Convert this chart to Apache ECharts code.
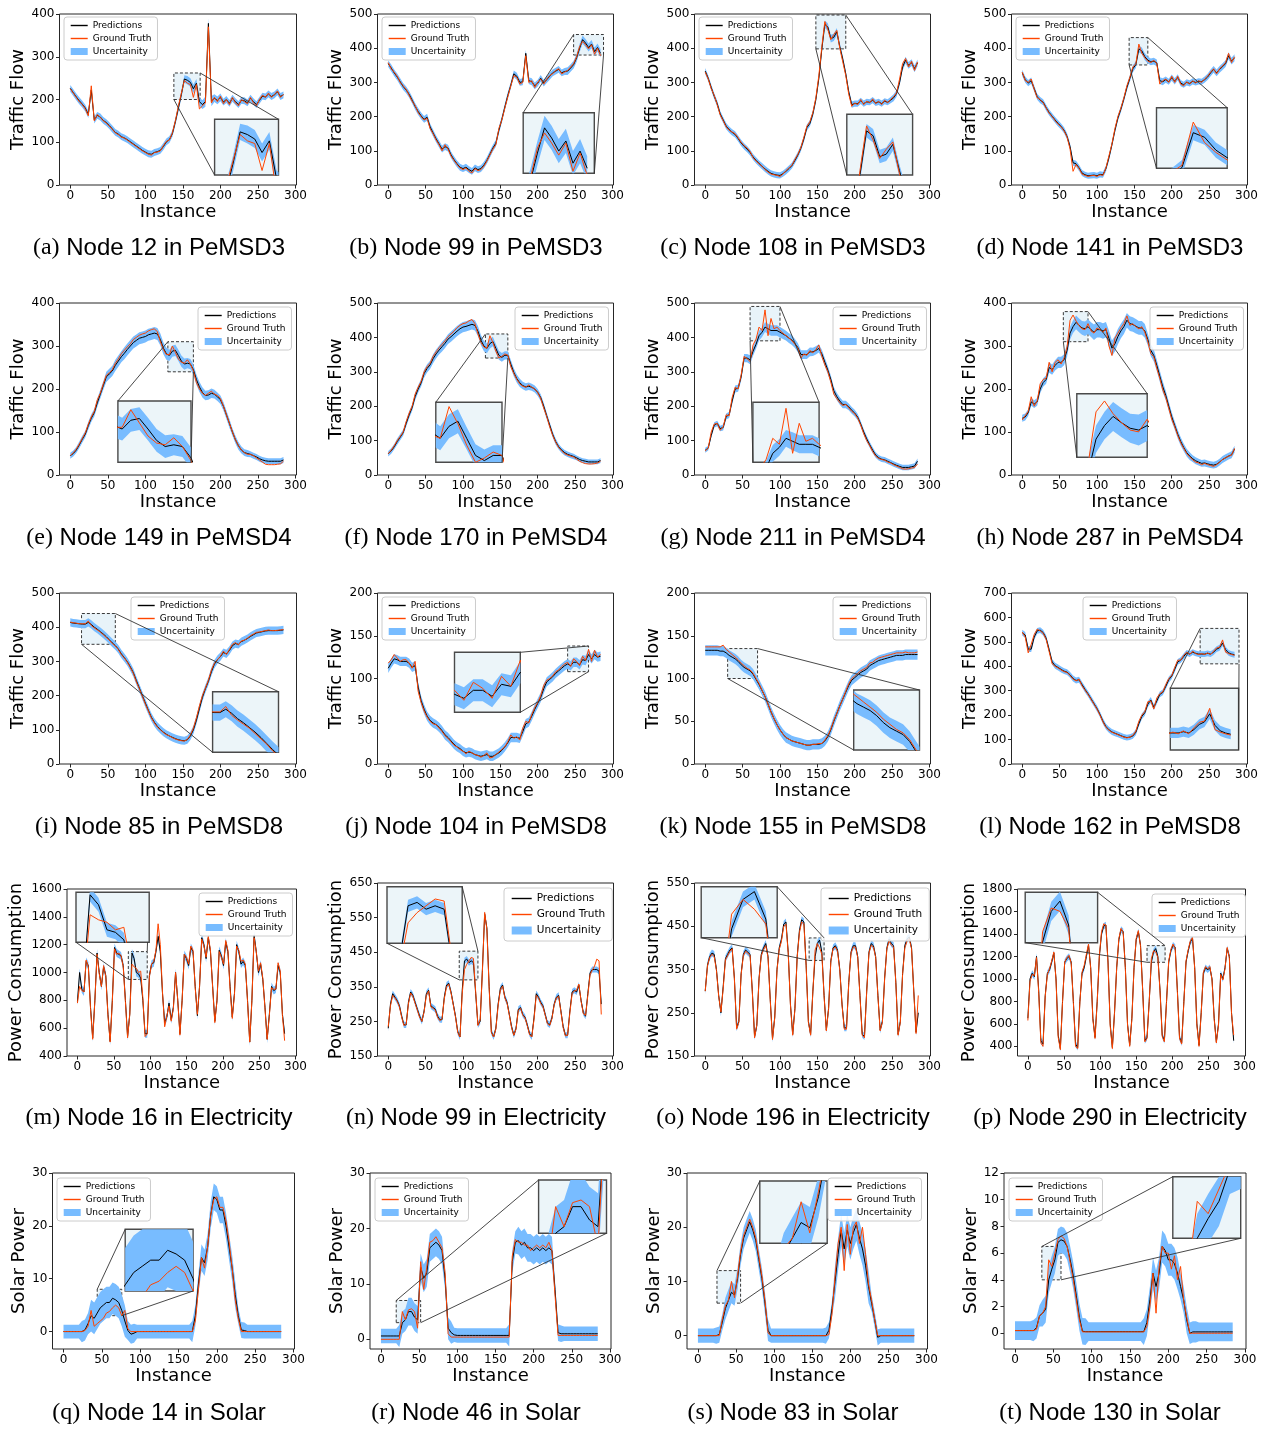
<!DOCTYPE html>
<html><head><meta charset="utf-8">
<script src="https://cdn.jsdelivr.net/npm/echarts@6/dist/echarts.min.js"></script>
<style>html,body{margin:0;padding:0;background:#fff;}#c{width:1275px;height:1430px;}</style>
</head><body><div id="c"></div>
<script>
// ---------------- DATA (traffic & solar sampled every 4 instances, electricity every 3; uncertainty half-width per 12 instances) ----------------
const TICKS_X = [0,50,100,150,200,250,300];
const TICKS_0_400 = [0,100,200,300,400];
const TICKS_0_500 = [0,100,200,300,400,500];
const TICKS_0_200 = [0,50,100,150,200];
const TICKS_0_700 = [0,100,200,300,400,500,600,700];
const TICKS_400_1600 = [400,600,800,1000,1200,1400,1600];
const TICKS_150_650 = [150,250,350,450,550,650];
const TICKS_150_550 = [150,250,350,450,550];
const TICKS_400_1800 = [400,600,800,1000,1200,1400,1600,1800];
const TICKS_0_30 = [0,10,20,30];
const TICKS_0_12 = [0,2,4,6,8,10,12];

const truthA = [225,215,205,195,188,178,162,232,150,165,158,150,
145,138,130,122,118,112,110,105,100,95,90,85,
80,76,72,70,76,77,80,92,102,105,122,150,
185,215,245,238,235,205,235,178,185,192,370,192,
205,195,208,190,200,188,205,192,185,200,195,190,
205,192,185,200,210,205,215,205,212,220,205,212];
const predA = [226,216,206,197,189,180,165,222,152,163,159,151,
146,139,131,123,119,113,110,106,101,96,91,86,
81,77,73,72,76,78,81,90,101,106,120,148,
180,212,248,245,240,225,238,195,188,195,378,196,
203,198,205,194,200,191,203,195,188,198,197,192,
203,195,188,198,208,206,213,207,211,218,207,211];
const uncA = [8,8,8,8,8,8,8,8,8,8,8,8,9,10,10,12,9,8,8,8,8,8,8,8];

const truthB = [358,340,330,318,300,290,280,262,245,232,212,200,
190,195,165,150,132,118,100,118,105,85,72,60,
50,45,50,40,35,48,42,45,55,70,88,105,
118,165,190,225,258,290,320,315,295,300,378,300,
305,285,300,310,295,310,320,325,335,340,325,330,
335,345,355,375,405,420,410,398,410,382,400,378];
const predB = [355,342,328,316,302,288,278,265,248,230,215,202,
192,198,170,152,135,120,105,112,108,88,74,62,
52,48,52,45,40,50,45,48,58,72,90,108,
122,160,192,228,262,292,325,318,300,302,385,305,
302,290,298,312,298,308,318,328,333,338,328,332,
333,342,352,372,400,425,415,402,412,390,402,385];
const uncB = [10,10,10,10,10,10,10,10,10,10,10,10,10,10,10,10,10,10,10,10,11,12,12,12];

const truthC = [330,310,282,262,235,205,188,170,160,155,150,138,
125,115,108,98,80,70,62,55,45,38,32,30,
28,25,32,42,50,58,75,90,110,140,172,185,
212,255,320,405,478,455,425,440,452,400,360,320,
265,230,240,235,250,235,245,240,252,238,245,235,
248,240,250,258,270,310,355,370,345,362,335,360];
const predC = [333,312,285,260,238,208,190,172,162,154,148,136,
123,113,105,95,82,72,63,55,47,40,34,31,
29,28,33,40,48,57,72,88,108,135,168,180,
208,250,312,398,470,462,428,432,448,405,368,325,
272,235,238,238,246,238,243,242,248,240,243,238,
245,242,248,255,268,300,345,365,350,358,340,357];
const uncC = [9,9,9,9,9,9,9,9,9,9,9,9,10,11,11,10,9,9,9,9,9,10,10,10];

const truthD = [330,305,300,310,280,255,250,240,225,210,200,188,
178,170,158,140,105,40,60,48,32,28,25,27,
28,25,30,28,50,85,120,165,200,225,255,290,
315,345,355,412,385,372,362,358,365,355,295,305,
310,300,318,300,318,295,290,302,295,305,298,305,
300,310,318,330,340,325,340,348,358,385,358,375];
const predD = [328,308,298,305,282,258,248,242,226,212,201,190,
180,171,160,142,112,65,62,50,35,30,27,28,
29,27,31,30,48,80,118,160,196,222,252,285,
312,340,352,398,392,375,365,360,362,357,305,302,
308,302,314,303,315,298,293,300,297,303,300,303,
302,308,316,328,338,328,338,346,355,378,362,372];
const uncD = [9,9,9,9,9,9,9,9,9,9,9,9,10,10,10,10,9,9,9,9,9,10,10,10];

const truthE = [45,52,60,72,85,98,118,135,148,175,190,212,
232,238,245,260,270,282,290,298,305,315,320,325,
328,330,335,338,340,333,310,292,280,280,300,285,
270,262,260,268,258,242,215,200,190,185,190,195,
188,185,178,160,140,120,100,82,68,58,52,48,
48,45,40,35,30,25,24,24,24,25,26,32];
const predE = [45,50,58,70,83,95,115,132,145,168,188,208,
228,235,242,255,265,275,283,292,300,308,313,318,
320,322,326,328,330,328,315,295,282,278,288,290,
278,265,258,260,258,245,222,205,192,185,186,190,
188,182,175,160,140,120,100,82,68,58,52,50,
48,45,42,38,35,33,32,32,32,32,32,35];
const uncE = [7,8,9,10,12,13,14,14,14,14,14,13,13,12,12,11,10,10,9,8,7,7,7,7];

const truthF = [62,72,85,100,112,125,155,180,200,235,255,272,
300,315,325,345,358,370,380,390,402,410,418,428,
435,440,442,448,452,440,410,385,372,368,405,385,
360,340,345,352,348,315,295,278,265,258,255,262,
255,250,240,222,195,170,140,115,95,80,70,62,
58,55,52,46,40,36,33,32,32,33,35,40];
const predF = [62,70,82,97,110,123,150,175,196,228,250,268,
295,310,320,338,352,363,373,383,395,402,410,418,
425,430,432,435,438,435,418,392,375,368,382,388,
368,348,342,348,348,322,298,280,268,260,256,258,
255,250,240,225,200,172,145,118,97,82,72,65,
60,57,54,50,45,42,40,38,38,38,38,42];
const uncF = [8,9,10,11,12,13,14,15,15,15,15,14,13,12,12,11,10,10,9,8,8,7,7,7];

const truthG = [70,78,125,148,150,130,140,175,172,225,255,250,
290,345,338,330,378,395,430,420,480,405,455,425,
430,420,412,405,398,390,380,368,340,352,348,362,
355,365,378,345,320,300,270,235,222,210,202,205,
195,185,178,165,145,120,100,85,68,55,48,45,
43,38,35,30,26,22,18,17,18,20,22,32];
const predG = [72,78,115,145,150,135,138,170,175,215,250,252,
285,340,340,335,360,380,405,415,430,425,420,420,
420,415,410,405,398,392,382,370,350,350,350,358,
358,362,368,352,328,305,278,245,228,215,205,205,
198,188,180,168,148,125,105,88,72,58,50,46,
44,40,36,32,28,25,22,22,22,24,26,40];
const uncG = [7,8,9,10,12,13,14,15,15,14,13,13,12,12,11,11,10,9,9,8,8,8,8,8];

const truthH = [128,138,148,182,160,172,212,222,225,262,240,262,
268,258,272,298,360,372,358,348,340,338,352,335,
330,342,338,332,342,300,278,318,330,342,352,370,
348,352,345,340,345,332,310,282,275,248,225,198,
180,155,130,112,92,75,62,50,42,35,30,28,
24,27,24,22,20,24,30,36,40,44,46,62];
const predH = [132,135,145,170,165,170,200,215,222,250,245,255,
262,262,268,290,330,345,355,348,342,340,345,338,
332,338,338,335,338,318,295,305,322,335,345,360,
352,350,346,342,342,335,315,290,278,255,230,205,
185,160,135,115,95,78,64,52,44,38,33,30,
27,28,26,24,23,25,30,36,40,44,47,60];
const uncH = [8,9,10,12,13,15,16,17,18,18,18,17,17,16,14,13,11,10,9,8,8,8,8,8];

const truthI = [415,413,412,410,410,410,418,405,398,392,386,378,
370,362,352,345,335,320,310,298,282,265,240,220,
198,175,155,135,120,108,100,92,86,82,77,73,
70,68,67,72,85,105,135,170,200,222,245,275,
295,305,315,330,320,335,350,355,348,360,362,368,
375,380,385,386,388,390,392,390,390,391,392,393];
const predI = [414,412,411,410,409,409,414,408,400,394,387,380,
372,363,354,346,336,322,311,299,284,267,244,222,
200,178,157,137,122,110,101,93,87,82,78,74,
71,69,68,71,82,100,128,162,195,220,242,270,
292,305,314,326,322,332,346,352,350,358,362,367,
373,378,383,385,387,389,390,390,390,390,391,392];
const uncI = [12,12,12,12,12,12,12,12,12,12,12,12,12,12,12,12,12,12,12,12,12,12,12,12];

const truthJ = [118,122,128,124,120,122,122,118,112,120,85,72,
62,55,50,47,46,42,38,33,30,26,22,20,
17,15,12,15,13,11,10,8,10,13,7,8,
11,14,17,20,26,34,30,32,28,42,50,48,
58,66,72,80,92,98,100,103,108,110,114,117,
119,114,123,120,115,126,121,134,120,133,125,128];
const predJ = [112,118,123,122,120,120,120,118,113,115,90,74,
64,56,51,48,46,43,39,34,31,27,23,20,
18,15,13,14,13,11,10,9,10,11,9,9,
11,13,16,20,25,31,31,31,30,38,47,49,
56,64,71,78,88,96,99,102,106,109,112,115,
117,115,119,119,116,122,121,128,123,128,125,126];
const uncJ = [5.5,5.5,5.5,5.5,5.5,5.5,5.5,5.5,5.5,5.5,5.5,5.5,5.5,5.5,5.5,5.5,5.5,5.5,5.5,5.5,5.5,5.5,5.5,5.5];

const truthK = [137,137,137,137,137,137,139,134,131,128,125,122,
118,115,112,110,106,100,94,86,79,70,61,53,
46,40,35,31,29,27,26,25,24,23,22,22,
23,23,24,24,28,33,41,51,59,68,76,85,
94,100,103,106,109,111,113,118,119,122,124,125,
126,127,128,129,130,130,130,131,130,130,130,131];
const predK = [133,133,133,133,133,132,132,130,127,125,123,120,
116,113,111,109,105,99,93,86,79,70,61,53,
46,40,35,31,29,27,26,25,24,23,22,22,
23,23,23,24,27,32,40,50,59,68,76,84,
92,98,101,104,107,109,111,115,117,119,121,122,
123,124,125,126,127,127,127,128,128,128,128,128];
const uncK = [6,6,6,6,6,6,6,6,6,6,6,6,6,6,6,6,6,6,6,6,6,6,6,6];

const truthL = [540,520,455,490,530,552,545,535,510,460,410,400,
393,385,378,375,362,348,340,348,320,302,285,265,
245,225,200,172,150,138,130,125,120,115,110,107,
110,118,135,175,200,215,255,258,225,270,288,295,
325,350,362,395,425,425,445,458,448,462,452,448,
452,448,455,448,462,475,478,508,458,452,448,445];
const predL = [538,528,470,470,520,545,548,538,515,468,418,402,
395,387,380,376,365,350,342,345,325,305,287,267,
247,227,203,175,153,140,131,126,121,116,111,108,
110,115,130,165,195,210,245,262,232,258,285,293,
318,345,360,388,418,425,440,455,450,458,453,450,
450,450,453,450,458,470,476,495,468,455,450,447];
const uncL = [12,12,12,12,12,12,12,12,12,12,12,12,12,12,12,12,12,12,12,12,12,12,12,12];

const truthM = [780,900,870,860,1090,1040,740,520,800,1130,990,900,
1050,970,690,500,790,1170,1130,1140,1120,1040,790,530,
700,1060,1040,1030,1000,1010,820,540,560,970,1060,1080,
1160,1350,1200,860,610,690,760,650,740,1000,800,550,
800,1130,1110,1060,1190,1160,890,700,900,1240,1190,1110,
1260,1160,890,640,800,1150,1110,1060,1230,1160,880,670,
840,1190,1160,1080,1090,1060,790,500,800,1250,1150,1010,
1070,960,740,520,690,890,880,880,1070,1010,690,510];
const predM = [790,1000,880,860,1080,1050,750,530,800,1140,1000,900,
1040,980,700,505,800,1180,1140,1130,1120,1050,800,540,
700,1140,1100,1000,990,960,800,560,560,980,1060,1070,
1150,1260,1150,850,640,680,780,660,750,1000,800,560,
800,1130,1100,1050,1180,1150,900,690,900,1250,1200,1100,
1250,1150,900,650,800,1160,1120,1050,1220,1150,900,680,
850,1200,1150,1060,1080,1050,800,500,800,1270,1150,1000,
1060,950,750,520,700,900,870,880,1050,1000,700,560];
const uncM = [28,28,28,28,28,28,28,28,28,28,28,28,28,28,28,28,28,28,28,28,28,28,28,28];

const truthN = [235,295,325,318,308,292,262,238,242,300,332,322,
302,282,262,250,278,325,338,292,288,282,262,252,
258,315,350,358,332,298,262,218,205,330,400,415,
425,435,432,335,238,255,395,565,515,345,218,205,
228,295,340,352,318,302,268,232,210,228,282,288,
268,260,238,212,205,255,325,318,302,292,268,243,
238,258,298,318,322,278,232,208,210,275,330,338,
340,358,308,272,268,325,385,398,410,430,425,270];
const predN = [230,300,330,320,310,295,265,240,240,305,335,325,
305,285,265,250,280,330,340,295,290,285,265,255,
255,320,355,360,335,300,265,220,205,340,425,430,
420,425,420,330,240,250,400,560,520,350,220,205,
230,300,345,355,320,305,270,235,210,230,285,290,
270,262,240,215,205,260,330,320,305,295,270,245,
240,260,300,320,325,280,235,210,210,280,335,340,
335,355,310,275,265,330,390,400,400,400,395,300];
const uncN = [9,9,9,9,9,9,9,9,9,9,9,9,9,9,9,9,9,9,9,9,9,9,9,9];

const truthO = [300,358,378,385,380,348,288,252,305,372,382,392,
398,328,212,228,338,382,392,388,382,298,192,222,
328,382,396,405,378,278,188,238,348,396,416,450,
455,388,268,198,258,378,435,460,455,358,228,198,
298,395,410,400,385,288,208,258,368,398,402,392,
348,268,212,212,318,388,402,402,378,288,198,192,
298,388,406,402,378,288,208,228,328,398,416,406,
402,318,198,228,338,400,416,420,398,298,202,290];
const predO = [300,360,380,388,385,350,290,250,310,375,385,395,
400,330,215,230,340,385,395,390,385,300,195,220,
330,385,400,410,380,280,190,240,350,400,420,455,
460,390,270,200,260,380,440,465,460,360,230,200,
300,380,410,418,390,290,210,260,370,400,405,395,
350,270,215,215,320,390,405,405,380,290,200,195,
300,390,410,405,380,290,210,230,330,400,420,410,
405,320,200,230,340,405,420,425,400,300,205,250];
const uncO = [8,8,8,8,8,8,8,8,8,8,8,8,8,8,8,8,8,8,8,8,8,8,8,8];

const truthP = [630,980,1040,1030,1190,880,430,400,840,1040,1090,1160,
1240,990,480,370,790,1150,1190,1210,1140,790,400,380,
790,1060,1120,1220,1310,1090,640,470,790,1210,1420,1490,
1480,1140,580,380,700,1100,1360,1450,1410,1090,590,400,
640,1100,1360,1430,1290,890,440,470,790,1180,1250,1240,
1190,890,490,440,790,1160,1260,1310,1270,890,470,420,
790,1160,1260,1340,1370,1090,590,400,690,1060,1110,1090,
1110,990,640,430,590,1040,990,1090,1280,1190,690,500];
const predP = [650,1000,1050,1020,1200,900,450,420,850,1050,1080,1150,
1230,1000,500,380,800,1150,1180,1200,1150,800,420,390,
800,1050,1100,1200,1300,1100,650,480,800,1200,1400,1470,
1480,1150,600,390,700,1100,1350,1440,1420,1100,600,410,
650,1100,1350,1420,1300,900,450,480,800,1150,1240,1270,
1200,900,500,450,800,1150,1250,1300,1280,900,480,430,
800,1150,1250,1330,1360,1100,600,410,700,1050,1100,1080,
1100,1000,650,440,600,1050,1000,1100,1270,1200,700,450];
const uncP = [28,28,28,28,28,28,28,28,28,28,28,28,28,28,28,28,28,28,28,28,28,28,28,28];

const truthQ = [0,0,0,0,0,0,0,0.2,1,4,1,1.5,
2,2.5,3.5,3.8,4.5,5,4.5,3,4,0.5,0,0,
0,0,0,0,0,0,0,0,0,0,0,0,
0,0,0,0,0,0,0,2,8,14,12,16,
22,25,25.5,23.5,23.5,21,17,12,6,2.5,0,0,
0,0,0,0,0,0,0,0,0,0,0,0];
const predQ = [0,0,0,0,0,0,0,0.3,1.5,3,2.5,3.5,
4.5,5,5.5,5.5,6.3,6,5.5,4,2,0.2,-0.5,-0.3,
0,0,0,0,0,0,0,0,0,0,0,0,
0,0,0,0,0,0,0,3,9,14,13,16,
22,25.5,25,23,23,20,16,12,7,3,0.3,0.2,
0,0,0,0,0,0,0,0,0,0,0,0];
const uncQ = [1.3,1.3,2,3,3,3,3,1.8,1.3,1.3,1.3,1.3,1.3,1.3,2,2.5,2.5,2.5,2.5,1.5,1.3,1.3,1.3,1.3];

const truthR = [0,0,0,0,0,0,0,5,3.5,5.3,5.5,5,
2,14,9,13,17.5,17.8,18.5,17.5,16.5,12,1,0.4,
0.4,0.4,0.4,0.4,0.4,0.4,0.4,0.4,0.4,0.4,0.4,0.4,
0.4,0.4,0.4,0.4,0.4,0.4,0.4,15,18,17.5,17.5,17,
17,16,16.5,17,16.5,17,16.5,17.5,16,8,0.7,0.7,
0.7,0.7,0.7,0.7,0.7,0.7,0.7,0.7,0.7,0.7,0.7,0.7];
const predR = [0.6,0.6,0.6,0.6,0.6,0.6,0.6,3,3.5,5,5,4,
3.5,13,11,12,16.5,17,17.5,17,16,11,2,1.2,
0.8,0.7,0.7,0.7,0.7,0.7,0.7,0.7,0.7,0.7,0.7,0.7,
0.7,0.7,0.7,0.7,0.7,0.7,0.7,14,17.5,17.8,17,17.5,
16.5,16.5,16,16.5,16,16.5,16,16.5,16,9,1.2,1,
1,1,1,1,1,1,1,1,1,1,1,1];
const uncR = [1.3,1.3,2,2.5,2.5,2.5,2.5,2,1.3,1.3,1.3,1.3,1.3,1.3,2,2.5,2.5,2.5,2.5,1.5,1.3,1.3,1.3,1.3];

const truthS = [0,0,0,0,0,0,0,0,3,5.5,6.5,10,
7,11,15.5,18.5,20,21.5,20,18,14.5,11,6.5,0.5,
0,0,0,0,0,0,0,0,0,0,0,0,
0,0,0,0,0,0,0,0.2,4,11,17,20,
12,20.5,15,20,21,17,20,15,9.5,6.5,3,0,
0,0,0,0,0,0,0,0,0,0,0,0];
const predS = [0,0,0,0,0,0,0,0.2,2.5,5,6.5,8,
7.5,10.5,15,18,19.5,21,19.5,17.5,14,10.5,6,1,
0,0,0,0,0,0,0,0,0,0,0,0,
0,0,0,0,0,0,0,1,5,10,15,19.5,
16,19.5,17,19,20.5,18,16,13,9,6,3,-0.3,
0,0,0,0,0,0,0,0,0,0,0,0];
const uncS = [1.3,1.3,1.5,2,2,2,2,2,1.3,1.3,1.3,1.3,1.3,1.3,1.5,3,3,3,3,1.5,1.3,1.3,1.3,1.3];

const truthT = [0.2,0.2,0.2,0.2,0.2,0.2,0.2,0.3,1.3,1.5,2,5.5,
5,6,7,7.3,7.1,6.5,5.3,4,2.5,1,0.1,0.1,
0.1,0.1,0.1,0.1,0.1,0.1,0.1,0.1,0.1,0.1,0.1,0.1,
0.1,0.1,0.1,0.1,0.1,0.1,0.1,0.5,2,4.5,1.5,5,
6.5,6,6,4.8,5.8,4,5,2.5,1.2,0,0,0,
0,0,0,0,0,0,0,0,0,0,0,0];
const predT = [0.2,0.2,0.2,0.2,0.2,0.2,0.2,0.4,1.3,1.5,1.8,4,
4.8,5.5,6.8,7,6.9,6.5,5.5,4.3,2.8,1.2,0.15,0.12,
0.12,0.12,0.12,0.12,0.12,0.12,0.12,0.12,0.12,0.12,0.12,0.12,
0.12,0.12,0.12,0.12,0.12,0.12,0.12,0.8,2.5,4.5,3.5,4.5,
6.5,6.2,5.5,5.5,5.2,4.5,3.5,2.5,1,0,0.1,0.1,
0.1,0.1,0.1,0.1,0.1,0.1,0.1,0.1,0.1,0.1,0.1,0.1];
const uncT = [0.7,0.7,0.8,1,1,1,1,1,0.7,0.7,0.7,0.7,0.7,0.7,1,1.2,1.2,1.2,1,0.8,0.7,0.7,0.7,0.7];

// ---------------- LAYOUT ----------------
const TF = 'Traffic Flow', PC = 'Power Consumption', SP = 'Solar Power';
const PANELS = [
 {k:'a',cap:'Node 12 in PeMSD3',pred:predA,truth:truthA,unc:uncA,step:4,box:[59.5,14,237,171],y:[0,400],yt:TICKS_0_400,yn:TF,nd:40.5,leg:[64,17],ins:[214.6,119.3,63.9,55.7],zx:[138,173],zy:[200,262],cn:['bl','tr']},
 {k:'b',cap:'Node 99 in PeMSD3',pred:predB,truth:truthB,unc:uncB,step:4,box:[377.5,14,236,171],y:[0,500],yt:TICKS_0_500,yn:TF,nd:41,leg:[382,17],ins:[523.2,112.7,71.1,60.6],zx:[248,288],zy:[380,440],cn:['tl','br']},
 {k:'c',cap:'Node 108 in PeMSD3',pred:predC,truth:truthC,unc:uncC,step:4,box:[694.5,14,236,171],y:[0,500],yt:TICKS_0_500,yn:TF,nd:40.5,leg:[699,17],ins:[846.8,114.3,65.8,60.7],zx:[148,188],zy:[398,497],cn:['bl','tr']},
 {k:'d',cap:'Node 141 in PeMSD3',pred:predD,truth:truthD,unc:uncD,step:4,box:[1011.5,14,236,171],y:[0,500],yt:TICKS_0_500,yn:TF,nd:38.5,leg:[1016,17],ins:[1156.5,107.7,70.7,60.6],zx:[143,168],zy:[351,431],cn:['bl','tr']},
 {k:'e',cap:'Node 149 in PeMSD4',pred:predE,truth:truthE,unc:uncE,step:4,box:[59.5,303,237,172],y:[0,400],yt:TICKS_0_400,yn:TF,nd:40.5,leg:[198,307],ins:[117.9,401,73.1,61.3],zx:[130,164],zy:[240,310],cn:['tl','br']},
 {k:'f',cap:'Node 170 in PeMSD4',pred:predF,truth:truthF,unc:uncF,step:4,box:[377.5,303,236,172],y:[0,500],yt:TICKS_0_500,yn:TF,nd:41,leg:[515,307],ins:[435.8,402.3,66.2,60],zx:[130,160],zy:[340,410],cn:['tl','br']},
 {k:'g',cap:'Node 211 in PeMSD4',pred:predG,truth:truthG,unc:uncG,step:4,box:[694.5,303,236,172],y:[0,500],yt:TICKS_0_500,yn:TF,nd:40.5,leg:[833,307],ins:[752.9,402.3,66.2,60],zx:[60,100],zy:[390,490],cn:['bl','tr']},
 {k:'h',cap:'Node 287 in PeMSD4',pred:predH,truth:truthH,unc:uncH,step:4,box:[1011.5,303,236,172],y:[0,400],yt:TICKS_0_400,yn:TF,nd:38.5,leg:[1150,307],ins:[1076.8,393.7,70.4,63.6],zx:[55,88],zy:[310,380],cn:['bl','tr']},
 {k:'i',cap:'Node 85 in PeMSD8',pred:predI,truth:truthI,unc:uncI,step:4,box:[59.5,593,237,171],y:[0,500],yt:TICKS_0_500,yn:TF,nd:40.5,leg:[131,597],ins:[212.6,691.7,65.9,60.6],zx:[15,60],zy:[350,440],cn:['bl','tr']},
 {k:'j',cap:'Node 104 in PeMSD8',pred:predJ,truth:truthJ,unc:uncJ,step:4,box:[377.5,593,236,171],y:[0,200],yt:TICKS_0_200,yn:TF,nd:41,leg:[382,597],ins:[454.5,652.3,65.8,60],zx:[240,268],zy:[108,138],cn:['tr','br']},
 {k:'k',cap:'Node 155 in PeMSD8',pred:predK,truth:truthK,unc:uncK,step:4,box:[694.5,593,236,171],y:[0,200],yt:TICKS_0_200,yn:TF,nd:40.5,leg:[833,597],ins:[853.7,690,65.8,60],zx:[30,70],zy:[100,135],cn:['bl','tr']},
 {k:'l',cap:'Node 162 in PeMSD8',pred:predL,truth:truthL,unc:uncL,step:4,box:[1011.5,593,236,171],y:[0,700],yt:TICKS_0_700,yn:TF,nd:38.5,leg:[1083,597],ins:[1170.3,688.3,68.3,61.7],zx:[238,290],zy:[410,555],cn:['tl','br']},
 {k:'m',cap:'Node 16 in Electricity',pred:predM,truth:truthM,unc:uncM,step:3,box:[67,889,229.5,167],y:[400,1600],yt:TICKS_400_1600,yn:PC,nd:51,leg:[199,893],ins:[76,892.3,73.2,50],zx:[70,96],zy:[950,1150],cn:['bl','tr']},
 {k:'n',cap:'Node 99 in Electricity',pred:predN,truth:truthN,unc:uncN,step:3,box:[377.5,883,236,173],y:[150,650],yt:TICKS_150_650,yn:PC,nd:40,leg:[504,888,'l'],ins:[387,886.7,75.2,56.6],zx:[95,120],zy:[370,453],cn:['bl','tr']},
 {k:'o',cap:'Node 196 in Electricity',pred:predO,truth:truthO,unc:uncO,step:3,box:[694.5,883,236,173],y:[150,550],yt:TICKS_150_550,yn:PC,nd:41.5,leg:[821,888,'l'],ins:[701.2,886.7,76,51],zx:[139,159],zy:[371,423],cn:['bl','tr']},
 {k:'p',cap:'Node 290 in Electricity',pred:predP,truth:truthP,unc:uncP,step:3,box:[1017.5,889,228,167],y:[314,1800],yt:TICKS_400_1800,yn:PC,nd:47.5,leg:[1152,894],ins:[1025.2,892.3,72.4,50.4],zx:[165,190],zy:[1148,1296],cn:['bl','tr']},
 {k:'q',cap:'Node 14 in Solar',pred:predQ,truth:truthQ,unc:uncQ,step:4,box:[52.5,1173,242,176],y:[-3.3,30],yt:TICKS_0_30,yn:SP,nd:33,leg:[57,1178],ins:[125.2,1229.3,67.9,61.7],zx:[44,76],zy:[3,8],cn:['tl','br']},
 {k:'r',cap:'Node 46 in Solar',pred:predR,truth:truthR,unc:uncR,step:4,box:[370,1173,241,176],y:[-1.75,30],yt:TICKS_0_30,yn:SP,nd:33,leg:[375,1178],ins:[538.6,1180,67.9,53.3],zx:[20,52],zy:[3,7],cn:['tl','br']},
 {k:'s',cap:'Node 83 in Solar',pred:predS,truth:truthS,unc:uncS,step:4,box:[687,1173,240.5,176],y:[-2.46,30],yt:TICKS_0_30,yn:SP,nd:31,leg:[828,1178],ins:[759.8,1181,67.4,62.3],zx:[25,56],zy:[6,12],cn:['tl','br']},
 {k:'t',cap:'Node 130 in Solar',pred:predT,truth:truthT,unc:uncT,step:4,box:[1004,1173,242,176],y:[-1.18,12],yt:TICKS_0_12,yn:SP,nd:31,leg:[1009,1178],ins:[1172.8,1176.7,67.9,61.6],zx:[35,60],zy:[4,6.5],cn:['tl','br']}
];
const CAP_X = [159,476,793,1110];
const CAP_Y = [248,538,827,1118,1413];

const BAND_SOLID = '#78bcff';
const GT = '#ff4500';
const FONT = 'DejaVu Sans';
const plain = v => String(v);

function pairs(arr, step){ return arr.map((v,i)=>[i*step, v]); }
function uAt(p, i){ return p.unc[Math.floor(i*p.step/12)]; }

function bandSeries(p, g){
  return {type:'custom', name:'Uncertainity', xAxisIndex:g, yAxisIndex:g, silent:true, z:1, animation:false,
    itemStyle:{color:BAND_SOLID}, color:BAND_SOLID,
    data:[[p.zx[0], p.zy[0]]],
    renderItem:function(params, api){
      const up = [], dn = [];
      p.pred.forEach((v,i)=>{ const x = i*p.step, u = uAt(p,i); up.push(api.coord([x, v+u])); dn.push(api.coord([x, v-u])); });
      const pts = up.concat(dn.reverse());
      const cs = params.coordSys;
      return {type:'polygon', shape:{points:pts}, style:{fill:BAND_SOLID, stroke:null},
        clipPath:{type:'rect', shape:{x:cs.x, y:cs.y, width:cs.width, height:cs.height}}};
    }};
}

const grid = [], xAxis = [], yAxis = [], series = [], legend = [];

PANELS.forEach((p, idx) => {
  const gm = idx*2, gi = idx*2+1;
  grid.push({left:p.box[0], top:p.box[1], width:p.box[2], height:p.box[3], show:true, borderColor:'#262626', borderWidth:1, backgroundColor:'transparent', containLabel:false, outerBoundsMode:'none'});
  grid.push({left:p.ins[0], top:p.ins[1], width:p.ins[2], height:p.ins[3], show:true, borderColor:'#4a4a4a', borderWidth:1.4, backgroundColor:'#ecf5f9', containLabel:false, outerBoundsMode:'none'});
  xAxis.push({gridIndex:gm, type:'value', position:'bottom', min:-14.35, max:301.35, name:'Instance', nameLocation:'middle', nameGap:17,
    nameTextStyle:{fontSize:18, fontFamily:FONT, color:'#000'},
    axisLine:{show:false, onZero:false}, splitLine:{show:false},
    axisTick:{show:true, inside:false, length:3.5, lineStyle:{color:'#262626', width:1}, customValues:TICKS_X},
    axisLabel:{fontSize:12, fontFamily:FONT, color:'#000', margin:5, customValues:TICKS_X, formatter:plain}});
  yAxis.push({gridIndex:gm, type:'value', position:'left', min:p.y[0], max:p.y[1], name:p.yn, nameLocation:'middle', nameGap:p.nd-9,
    nameTextStyle:{fontSize:18, fontFamily:FONT, color:'#000'},
    axisLine:{show:false, onZero:false}, splitLine:{show:false},
    axisTick:{show:true, inside:false, length:3.5, lineStyle:{color:'#262626', width:1}, customValues:p.yt},
    axisLabel:{fontSize:12, fontFamily:FONT, color:'#000', margin:5, customValues:p.yt, formatter:plain}});
  xAxis.push({gridIndex:gi, type:'value', min:p.zx[0], max:p.zx[1], show:false, axisLine:{onZero:false}, splitLine:{show:false}});
  yAxis.push({gridIndex:gi, type:'value', min:p.zy[0], max:p.zy[1], show:false, axisLine:{onZero:false}, splitLine:{show:false}});

  // dashed zoom-region marker (drawn beneath the band)
  series.push({type:'line', name:'_frame', xAxisIndex:gm, yAxisIndex:gm, data:[], silent:true, z:0, animation:false,
    markArea:{silent:true, itemStyle:{color:'rgba(190,222,238,0.35)', borderColor:'#222', borderWidth:0.9, borderType:[3,2]},
      data:[[{coord:[p.zx[0], p.zy[0]]},{coord:[p.zx[1], p.zy[1]]}]]}});

  [gm, gi].forEach(g => {
    series.push(bandSeries(p, g));
    series.push({type:'line', name:'Predictions', xAxisIndex:g, yAxisIndex:g, data:pairs(p.pred, p.step),
      symbol:'none', showSymbol:false, lineStyle:{color:'#000', width:1}, itemStyle:{color:'#000'}, color:'#000', silent:true, z:2, animation:false});
    series.push({type:'line', name:'Ground Truth', xAxisIndex:g, yAxisIndex:g, data:pairs(p.truth, p.step),
      symbol:'none', showSymbol:false, lineStyle:{color:GT, width:1}, itemStyle:{color:GT}, color:GT, silent:true, z:3, animation:false});
  });

  const big = p.leg[2] === 'l';
  const fs = big ? 10.5 : 9;
  legend.push({left:p.leg[0], top:p.leg[1], orient:'vertical', selectedMode:false,
    itemWidth: big?20:17, itemHeight: big?8:7, itemGap: big?5:4, padding: big?[5,7,5,7]:[4,6,4,6],
    borderColor:'#cccccc', borderWidth:1, borderRadius:3, backgroundColor:'rgba(255,255,255,0.85)',
    textStyle:{fontSize:fs, lineHeight:fs, fontFamily:FONT, color:'#000'},
    data:[{name:'Predictions', itemStyle:{opacity:0}, lineStyle:{width:1.4}},
          {name:'Ground Truth', itemStyle:{opacity:0}, lineStyle:{width:1.4}},
          {name:'Uncertainity', icon:'rect', itemStyle:{color:BAND_SOLID, opacity:1}}]});
});

const chart = echarts.init(document.getElementById('c'), null, {renderer:'canvas', width:1275, height:1430});
chart.setOption({backgroundColor:'#fff', animation:false, grid, xAxis, yAxis, series, legend});

// connector lines from the dashed region to the inset, clipped outside the inset box
function clipOutside(p0, p1, r){
  let t0 = 0, t1 = 1; const dx = p1[0]-p0[0], dy = p1[1]-p0[1];
  const ps = [-dx, dx, -dy, dy], qs = [p0[0]-r[0], r[2]-p0[0], p0[1]-r[1], r[3]-p0[1]];
  for (let k=0;k<4;k++){
    if (Math.abs(ps[k]) < 1e-9){ if (qs[k] < 0) return [[p0,p1]]; }
    else { const t = qs[k]/ps[k]; if (ps[k] < 0){ if (t > t0) t0 = t; } else { if (t < t1) t1 = t; } }
  }
  if (t0 >= t1) return [[p0,p1]];
  const at = t => [p0[0]+dx*t, p0[1]+dy*t]; const segs = [];
  if (t0 > 1e-6) segs.push([p0, at(t0)]);
  if (t1 < 1-1e-6) segs.push([at(t1), p1]);
  return segs;
}
const graphic = [];
PANELS.forEach((p, idx) => {
  const gm = idx*2;
  const L = p.ins[0], T = p.ins[1], R = p.ins[0]+p.ins[2], B = p.ins[1]+p.ins[3];
  const cornerData = {tl:[p.zx[0],p.zy[1]], tr:[p.zx[1],p.zy[1]], bl:[p.zx[0],p.zy[0]], br:[p.zx[1],p.zy[0]]};
  const cornerInset = {tl:[L,T], tr:[R,T], bl:[L,B], br:[R,B]};
  p.cn.forEach(c => {
    const a = chart.convertToPixel({gridIndex:gm}, cornerData[c]);
    const b = cornerInset[c];
    clipOutside(a, b, [L,T,R,B]).forEach(s => {
      graphic.push({type:'line', silent:true, z:10, shape:{x1:s[0][0], y1:s[0][1], x2:s[1][0], y2:s[1][1]},
        style:{stroke:'#333', lineWidth:0.9}});
    });
  });
  const col = idx % 4, row = Math.floor(idx/4);
  graphic.push({type:'text', silent:true, x:CAP_X[col], y:CAP_Y[row], z:10,
    style:{text:'{l|('+p.k+')} {r|'+p.cap+'}', align:'center', verticalAlign:'middle',
      rich:{l:{fontFamily:'Liberation Serif', fontSize:24, fill:'#000'}, r:{fontFamily:'Liberation Sans', fontSize:24, fill:'#000'}},
      fontFamily:'Liberation Sans', fontSize:24, fill:'#000'}});
});
chart.setOption({graphic});
</script></body></html>
